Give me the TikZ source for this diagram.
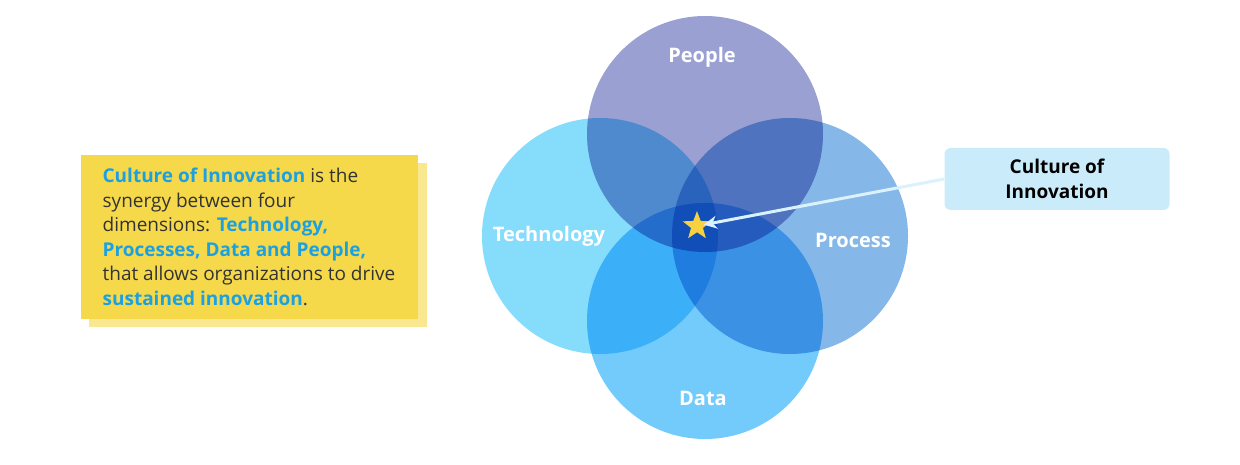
\documentclass[tikz,border=0pt]{standalone}
\usepackage{fontspec}
\setmainfont{Open Sans}
\usetikzlibrary{positioning, shapes, arrows.meta, backgrounds}

\definecolor{peoplec}{RGB}{154,160,210}
\definecolor{techc}{RGB}{133,220,251}
\definecolor{procc}{RGB}{133,184,232}
\definecolor{datac}{RGB}{115,203,251}
\definecolor{noteyel}{RGB}{245,217,74}
\definecolor{noteshade}{RGB}{250,232,145}
\definecolor{keyblue}{RGB}{27,161,226}
\definecolor{calloutc}{RGB}{202,236,250}
\definecolor{staryel}{RGB}{247,210,62}

\tikzset{
  dim/.style={circle, minimum size=236pt, inner sep=0pt, fill=#1},
  dimlabel/.style={text=white, font=\fontsize{20}{22}\selectfont\bfseries},
  notebox/.style={rectangle, fill=noteyel, minimum width=337pt, minimum height=163pt, align=left, text=black!80, font=\fontsize{19}{24.5}\selectfont},
  calloutbox/.style={rectangle, rounded corners=6pt, fill=calloutc, minimum width=225pt, minimum height=62pt, align=center, font=\fontsize{19}{25}\selectfont\bfseries},
}
\newcommand{\key}[1]{\textcolor{keyblue}{\textbf{#1}}}

\begin{document}
\begin{tikzpicture}[x=1pt, y=-1pt]
\useasboundingbox (0,0) rectangle (1240,465);

% four dimensions
\begin{scope}[blend group=multiply]
\node[dim=peoplec] (people) at (705,134) {};
\node[dim=techc] (tech) at (600,236) {};
\node[dim=procc] (proc) at (790,236) {};
\node[dim=datac] (data) at (705,321) {};
\end{scope}

\node[dimlabel] at (702,57) {People};
\node[dimlabel] at (549,236) {Technology};
\node[dimlabel] at (853,240) {Process};
\node[dimlabel] at (703,398) {Data};

\node[star, star points=5, star point ratio=2.4, fill=staryel, inner sep=0pt, minimum size=30pt] (star) at (697,226) {};

% callout
\node[calloutbox] (callout) at (1057,179) {Culture of\\Innovation};
\draw[calloutc!70!white, line width=3pt, -{Stealth[length=13pt, width=13pt]}, shorten >=7pt] (callout.west) -- (star.center);

% note on the left
\node[notebox] (note) at (249,237) {\key{Culture of Innovation} is the\\ synergy between four\\ dimensions: \key{Technology,}\\ \key{Processes, Data and People,}\\ that allows organizations to drive\\ \key{sustained innovation}.};
\begin{scope}[on background layer]
\fill[noteshade] ([shift={(9,8)}]note.north west) rectangle ([shift={(9,8)}]note.south east);
\end{scope}
\end{tikzpicture}
\end{document}
